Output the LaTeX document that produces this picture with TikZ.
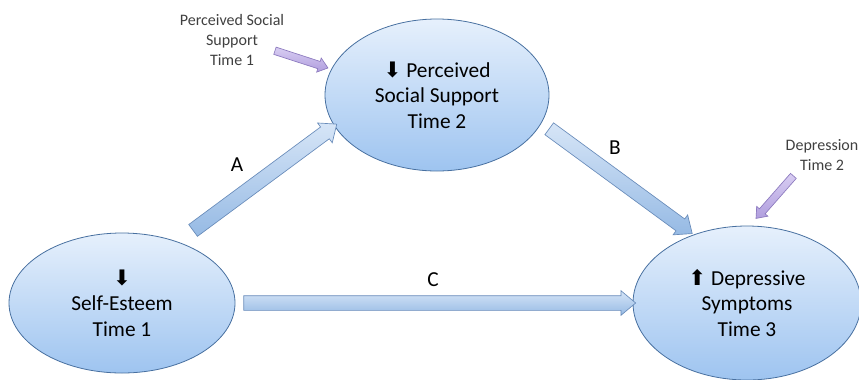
\documentclass[tikz,border=0pt]{standalone}
\usepackage{fontspec}
\setmainfont{Carlito}
\newfontfamily\arrowfont{DejaVu Sans}
\usetikzlibrary{shapes.geometric,shapes.arrows,calc}

\definecolor{ovaledge}{RGB}{72,112,160}
\definecolor{ovaltop}{RGB}{230,240,252}
\definecolor{ovalbot}{RGB}{158,196,240}
\definecolor{arrowedge}{RGB}{105,140,186}
\definecolor{arrowlight}{RGB}{214,229,247}
\definecolor{arrowdark}{RGB}{150,186,228}
\definecolor{purpedge}{RGB}{140,122,190}
\definecolor{purplight}{RGB}{216,205,242}
\definecolor{purpdark}{RGB}{176,158,222}

\tikzset{
  every picture/.style={line width=0.75pt},
  oval/.style={ellipse, draw=ovaledge, line width=0.6pt, top color=ovaltop, bottom color=ovalbot,
    inner sep=0pt, align=center, font=\fontsize{16}{19}\selectfont},
  notelabel/.style={align=center, inner sep=0.75pt, text=black!75, font=\fontsize{12}{15}\selectfont},
  pathlabel/.style={inner sep=0.75pt, font=\fontsize{16}{19}\selectfont},
  bigarrow/.style={single arrow, draw=arrowedge, line width=0.5pt, top color=arrowlight, bottom color=arrowdark,
    inner xsep=0pt, inner ysep=5.25pt, single arrow head extend=3.75pt, single arrow tip angle=80},
  notearrow/.style={single arrow, draw=purpedge, line width=0.5pt, top color=purplight, bottom color=purpdark,
    inner xsep=0pt, inner ysep=2.6pt, single arrow head extend=2.7pt, single arrow tip angle=76}
}

% block arrow from #2 to #3, both named coordinates
\newcommand{\blockarr}[3][bigarrow]{%
  \path let \p1=($(#3)-(#2)$), \n1={veclen(\x1,\y1)}, \n2={atan2(\y1,\x1)} in
    node[#1, minimum height=\n1, rotate=-\n2] at ($(#2)!0.5!(#3)$) {};}

\newcommand{\dn}{{\arrowfont\fontsize{16}{16}\selectfont ⬇}}
\newcommand{\up}{{\arrowfont\fontsize{16}{16}\selectfont ⬆}}

\begin{document}
\begin{tikzpicture}[x=0.75pt,y=0.75pt,yscale=-1,xscale=1]
  \useasboundingbox (0,0) rectangle (859,379);

  % Ovals
  \node[oval, minimum width=169.5pt, minimum height=105pt] (se) at (122,303) {\dn\\Self-Esteem\\Time 1};
  \node[oval, minimum width=168pt, minimum height=114pt] (pss) at (437,95) {\dn\ Perceived\\Social Support\\Time 2};
  \node[oval, minimum width=171pt, minimum height=115.5pt] (dep) at (747,303) {\up\ Depressive\\Symptoms\\Time 3};

  % Notes
  \node[notelabel] (note1) at (232,40) {Perceived Social\\Support\\Time 1};
  \node[notelabel] (note2) at (822,155) {Depression\\Time 2};

  % Arrow ends
  \coordinate (Atail) at ($(se.46)!-10pt!(se.center)$);
  \coordinate (Ahead) at ($(pss.197)!-1pt!(pss.center)$);
  \coordinate (Btail) at ($(pss.-16)!-4pt!(pss.center)$);
  \coordinate (Bhead) at ($(dep.129)!-4pt!(dep.center)$);
  \coordinate (Ctail) at ($(se.east)!-3pt!(se.center)$);
  \coordinate (Chead) at ($(dep.west)!-1pt!(dep.center)$);
  \coordinate (N1tail) at ($(note1.east)+(-13,10)$);
  \coordinate (N1head) at ($(pss.166)!-4.5pt!(pss.center)$);
  \coordinate (N2tail) at ($(note2.south)+(-27,2)$);
  \coordinate (N2head) at ($(dep.83)!-7pt!(dep.center)$);

  % Block arrows
  \blockarr{Atail}{Ahead}
  \blockarr{Btail}{Bhead}
  \blockarr{Ctail}{Chead}
  \blockarr[notearrow]{N1tail}{N1head}
  \blockarr[notearrow]{N2tail}{N2head}

  % Path labels
  \node[pathlabel] (labA) at (237,165) {A};
  \node[pathlabel] (labB) at (615,148) {B};
  \node[pathlabel] (labC) at (433,280) {C};
\end{tikzpicture}
\end{document}
